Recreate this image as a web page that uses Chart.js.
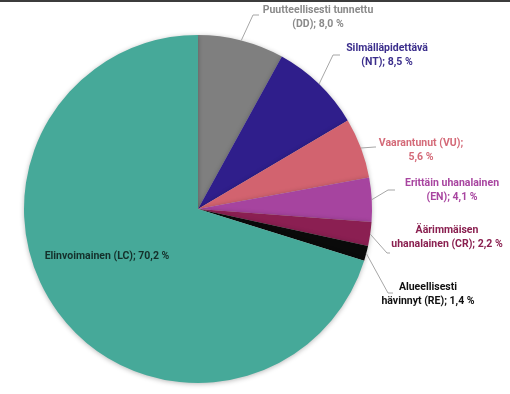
<!DOCTYPE html>
<html lang="fi">
<head>
<meta charset="utf-8">
<script src="https://cdn.jsdelivr.net/npm/chart.js@4.4.1/dist/chart.umd.min.js"></script>
<style>
  html, body { margin: 0; padding: 0; background: #fff; }
  #wrap { position: relative; width: 510px; height: 394px; }
  #topbar { position: absolute; left: 0; top: 0; width: 510px; height: 2px; background: #3c3c3c; }
</style>
</head>
<body>
<div id="wrap">
  <canvas id="chart" width="510" height="394"></canvas>
  <div id="topbar"></div>
</div>
<script>
// Uhanalaisuusluokat, myötäpäivään ylhäältä alkaen
const categories = [
  'Puutteellisesti tunnettu (DD)',
  'Silmälläpidettävä (NT)',
  'Vaarantunut (VU)',
  'Erittäin uhanalainen (EN)',
  'Äärimmäisen uhanalainen (CR)',
  'Alueellisesti hävinnyt (RE)',
  'Elinvoimainen (LC)'
];
const shares = [8.0, 8.5, 5.6, 4.1, 2.2, 1.4, 70.2];

const sliceColors = ['#7f7f7f', '#2f1e8b', '#d2636f', '#a6449f', '#8b1f52', '#0a0a0a', '#46a999'];
const textColors  = ['#8a8a8a', '#3b2e8c', '#d46a78', '#a845a0', '#8a2050', '#111111', '#14302b'];

// tekstien paikat (keskikohta, 1. rivi) ja johtoviivan taitekohta
const labelStyle = [
  { x: 318, y: 10,  brk: 2, elbow: [253, 15, 259, 15] },
  { x: 387, y: 48,  brk: 1, elbow: [333, 55, 340, 55] },
  { x: 421, y: 143, brk: 2, elbow: [375, 147, 376, 147] },
  { x: 452, y: 183, brk: 2, elbow: [388, 190, 395, 190] },
  { x: 447, y: 230, brk: 1, elbow: [387, 253, 390, 253] },
  { x: 428, y: 287, brk: 1, elbow: [388, 293, 393, 293] },
  { x: 107, y: 256, brk: 0, elbow: null }
];

function fmt(v) {
  return v.toFixed(1).replace('.', ',') + ' %';
}

// rivitys n:nnen välilyönnin kohdalta
function wrap(text, n) {
  if (!n) return [text];
  let count = 0;
  for (let i = 0; i < text.length; i++) {
    if (text[i] === ' ') {
      count++;
      if (count === n) return [text.slice(0, i), text.slice(i + 1)];
    }
  }
  return [text];
}

const shadowPlugin = {
  id: 'pieShadow',
  beforeDatasetDraw(chart) {
    const ctx = chart.ctx;
    ctx.save();
    ctx.shadowColor = 'rgba(0,0,0,0.28)';
    ctx.shadowBlur = 5;
    ctx.shadowOffsetX = 0;
    ctx.shadowOffsetY = 1;
  },
  afterDatasetDraw(chart) {
    chart.ctx.restore();
  }
};

const labelPlugin = {
  id: 'sliceLabels',
  afterDatasetsDraw(chart) {
    const ctx = chart.ctx;
    const meta = chart.getDatasetMeta(0);
    ctx.save();
    ctx.font = 'bold 10.5px Roboto';
    ctx.textAlign = 'center';
    ctx.textBaseline = 'middle';
    meta.data.forEach((arc, i) => {
      const st = labelStyle[i];
      const p = arc.getProps(['x', 'y', 'startAngle', 'endAngle', 'outerRadius'], true);
      const mid = (p.startAngle + p.endAngle) / 2;
      if (st.elbow) {
        const ax = p.x + Math.cos(mid) * p.outerRadius;
        const ay = p.y + Math.sin(mid) * p.outerRadius;
        ctx.strokeStyle = '#a6a6a6';
        ctx.lineWidth = 1;
        ctx.beginPath();
        ctx.moveTo(ax, ay);
        ctx.lineTo(st.elbow[0], st.elbow[1]);
        ctx.lineTo(st.elbow[2], st.elbow[3]);
        ctx.stroke();
      }
      const lines = wrap(categories[i] + '; ' + fmt(shares[i]), st.brk);
      ctx.fillStyle = textColors[i];
      lines.forEach((ln, k) => ctx.fillText(ln, st.x, st.y + k * 14));
    });
    ctx.restore();
  }
};

new Chart(document.getElementById('chart'), {
  type: 'pie',
  data: {
    labels: categories,
    datasets: [{
      data: shares,
      backgroundColor: sliceColors,
      borderWidth: 0
    }]
  },
  options: {
    responsive: false,
    animation: false,
    layout: { padding: { left: 24, right: 138, top: 35, bottom: 11 } },
    plugins: {
      legend: { display: false },
      tooltip: { enabled: false }
    }
  },
  plugins: [shadowPlugin, labelPlugin]
});
</script>
</body>
</html>
